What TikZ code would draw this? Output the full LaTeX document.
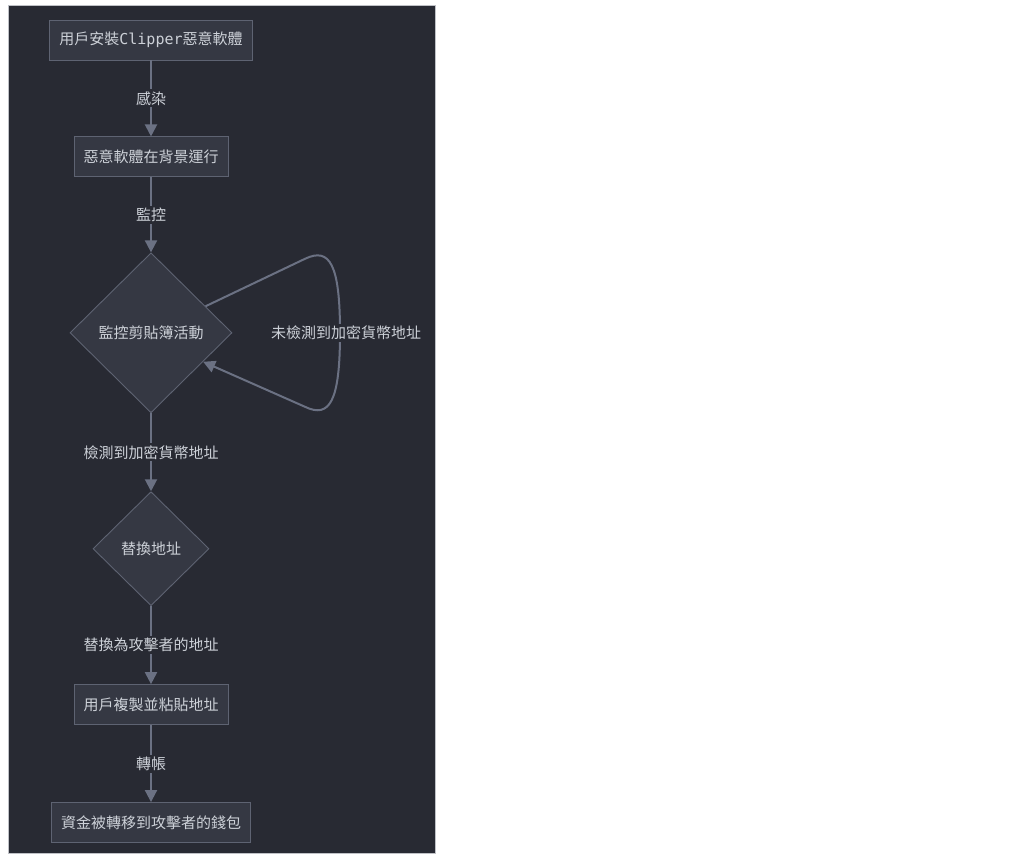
\documentclass[tikz,border=0pt]{standalone}
\usepackage{fontspec}
\setmainfont{Noto Sans CJK TC}
\setmonofont{DejaVu Sans Mono}
\usepackage{xcolor}
\definecolor{PanelBg}{HTML}{282A33}
\definecolor{NodeBg}{HTML}{353843}
\definecolor{NodeLine}{HTML}{5E6372}
\definecolor{EdgeLine}{HTML}{6B7183}
\definecolor{TextGray}{HTML}{CDD1D8}
\definecolor{EdgeRim}{HTML}{BFC1C6}
\usetikzlibrary{positioning,calc,arrows.meta,shapes.geometric}
\tikzset{
  bx/.style={draw=NodeLine,fill=NodeBg,line width=0.9pt,inner xsep=9.5pt,
    inner ysep=0pt,minimum height=40pt,font=\fontsize{15pt}{18pt}\selectfont,
    text=TextGray},
  dm/.style={bx,diamond,aspect=1,inner sep=2pt},
  flow/.style={-{Triangle[length=12pt,width=12pt]},draw=EdgeLine,line width=2pt},
  lbl/.style={fill=PanelBg,inner sep=2pt,font=\fontsize{15pt}{18pt}\selectfont,
    text=TextGray},
}
\begin{document}
\begin{tikzpicture}[x=1pt,y=1pt,node distance=77pt]
\useasboundingbox (0,0) rectangle (1024,-867);
\fill[white] (0,0) rectangle (1024,-867);
\draw[fill=PanelBg,draw=EdgeRim,line width=0.6pt] (8,-5) rectangle (435,-853);

\node[bx] (inst) at (151,-40) {用戶安裝\texttt{Clipper}惡意軟體};
\node[bx,below=76pt of inst] (bg) {惡意軟體在背景運行};
\node[dm,minimum width=162pt,minimum height=160pt,below=75pt of bg] (watch) {監控剪貼簿活動};
\node[dm,minimum width=116pt,minimum height=114pt,below=78pt of watch] (swap) {替換地址};
\node[bx,below=78pt of swap] (paste) {用戶複製並粘貼地址};
\node[bx,below=of paste] (loss) {資金被轉移到攻擊者的錢包};

\foreach \a/\b/\t in {inst/bg/感染,bg/watch/監控,watch/swap/檢測到加密貨幣地址,
    swap/paste/替換為攻擊者的地址,paste/loss/轉帳}
  \draw[flow] (\a) -- node[lbl] {\t} (\b);

% self loop on the clipboard check
\coordinate (lpA) at ($(watch.east)!0.33!(watch.north)$);
\coordinate (lpB) at ($(watch.east)!0.36!(watch.south)$);
\draw[flow] (lpA) -- ($(watch.center)+(154,74)$)
  .. controls ($(watch.center)+(179,86)$) and ($(watch.center)+(189,68)$) .. ($(watch.center)+(189,0)$)
  .. controls ($(watch.center)+(189,-68)$) and ($(watch.center)+(179,-86)$) .. ($(watch.center)+(154,-74)$)
  -- (lpB);
\node[lbl] (miss) at ($(watch.center)+(195,0)$) {未檢測到加密貨幣地址};
\end{tikzpicture}
\end{document}
